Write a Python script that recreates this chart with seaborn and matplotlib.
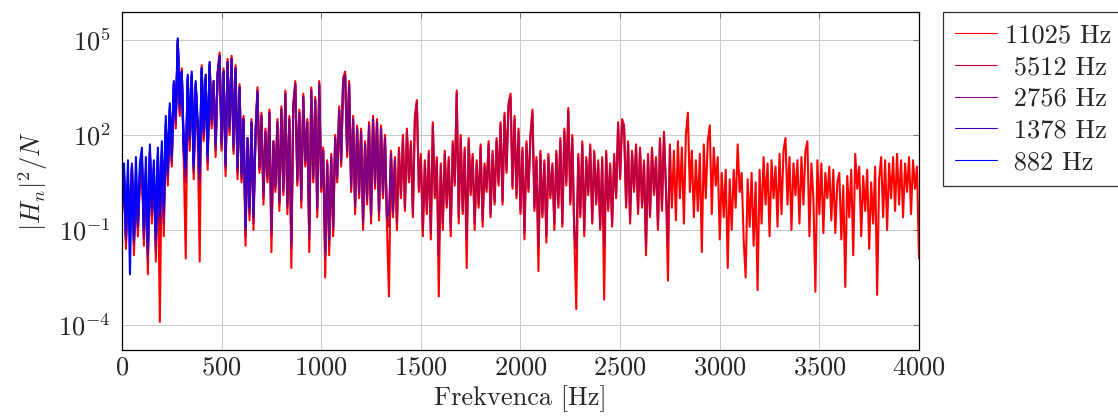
"""Power spectra of the same recording at several sampling rates, 0-4000 Hz, log y."""
import numpy as np
import pandas as pd

import matplotlib
matplotlib.use('Agg')
import matplotlib.pyplot as plt
from matplotlib.lines import Line2D
import seaborn as sns

STEP = 10  # Hz between read-off points

# log10(|H_n|^2 / N), every 10 Hz starting at 0 Hz
log_11025 = [
    -0.5, 0.8, -1.6, 0.3, -0.9, 1.0, -1.8, 0.5, -1.2, 0.7,
    1.2, -1.5, 0.6, -2.4, 1.5, -0.8, 0.9, -2.0, 1.3, -3.9,
    1.4, -1.2, 2.3, 0.4, 2.8, 1.0, 3.6, 2.2, 5.0, 2.6,
    4.1, 1.2, -1.9, 3.8, 1.5, 3.9, 0.6, 3.6, 2.0, -2.0,
    4.2, 1.8, 3.9, 0.9, 4.3, 2.2, 3.7, 1.3, 4.0, 4.6,
    1.5, 4.1, 0.7, 4.4, 2.0, 4.5, 1.4, 4.2, 0.6, 3.6,
    0.5, 2.6, -1.5, 1.9, -0.7, 2.5, -1.0, 2.0, 3.5, 0.8,
    2.7, -0.2, 2.2, 0.5, 2.8, -1.7, 1.8, 0.2, 2.5, -0.4,
    2.9, 0.1, 3.4, -0.5, 2.6, -2.2, 3.0, 3.7, 0.4, 2.8,
    -0.3, 3.3, 1.0, 2.5, -1.7, 3.5, 0.5, 3.2, -0.6, 3.7,
    0.2, 1.6, -2.5, 1.2, -1.8, 1.4, -1.2, 2.0, 0.5, 2.9,
    1.0, 3.8, 4.0, 1.3, 3.7, 0.2, 2.6, -0.5, 2.3, 0.0,
    2.2, -1.0, 1.8, -0.2, 2.4, -0.8, 2.6, 0.3, 2.5, -0.7,
    2.3, 0.0, 2.0, -0.9, -3.1, 1.5, -0.6, 1.3, -1.0, 1.6,
    0.0, 2.0, -0.4, 2.2, 0.5, 1.8, -0.6, 2.6, 3.1, 0.2,
    1.4, -1.2, 1.2, -0.5, 1.5, -1.3, 2.4, 0.0, 1.3, -3.1,
    1.1, -1.0, 1.5, -0.3, 1.3, -1.2, 1.8, 0.4, 3.4, -0.8,
    2.0, -0.5, 1.6, -2.2, 1.9, 0.1, 1.4, -1.0, 1.2, -0.3,
    1.7, -0.9, 1.1, 0.2, 1.8, -0.6, 1.5, -0.2, 1.9, 0.4,
    2.4, -0.2, 2.7, 0.8, 3.0, 3.3, 0.3, 2.6, 0.0, 2.2,
    -0.5, 1.6, -1.3, 1.8, 0.2, 2.0, 2.8, -0.4, 1.3, -2.3,
    1.5, -0.6, 1.2, -1.4, 1.4, 0.0, 1.1, -1.0, 1.5, -0.3,
    1.9, -0.9, 2.2, 0.4, 2.85, -0.2, 2.0, -1.2, -3.5, 1.4,
    -0.6, 1.8, -1.2, 1.3, 0.1, 1.7, -0.8, 1.5, -0.2, 1.2,
    -1.0, 1.3, -3.2, 1.5, -0.4, 1.1, -0.9, 1.4, 0.0, 2.4,
    0.6, 2.5, 2.3, -0.3, 1.8, -0.8, 1.5, 0.2, 1.7, -0.5,
    1.6, -0.3, 1.2, -1.8, 1.4, -0.6, 1.6, 0.1, 1.3, -1.0,
    1.9, -0.4, 2.1, 0.3, -2.6, 1.7, -0.3, 1.5, -0.7, 1.8,
    0.0, 1.6, -0.8, 2.0, 2.7, 0.2, 1.5, -0.6, 1.2, -0.4,
    1.4, -1.7, 1.7, 0.0, 1.8, 2.3, -0.5, 1.6, 0.4, 1.3,
    -1.3, 0.8, -0.6, 0.9, -2.2, 0.6, -1.0, 0.9, -0.3, 1.7,
    0.2, 0.8, -1.3, -2.5, 0.6, -0.9, 0.8, -1.5, 0.5, -2.9,
    0.9, -0.8, 1.3, -0.2, 1.1, -1.2, 1.2, 0.0, 1.0, -0.9,
    1.4, -0.5, 1.5, 1.9, -0.2, 1.3, -1.0, 1.1, 0.1, 1.2,
    -0.8, 1.3, -0.2, 1.5, 1.8, -1.2, 1.1, 0.0, -2.95, 1.2,
    -0.5, 1.1, -1.1, 0.8, 0.0, 1.0, -0.7, 0.9, -1.1, 0.5,
    0.8, -1.3, 0.4, -2.8, 0.7, -0.6, 0.9, -1.8, 1.4, 0.3,
    1.0, -1.2, 0.7, -0.4, 0.9, -1.6, 0.5, -0.8, 1.0, -3.05,
    0.6, 1.3, -0.6, 1.2, -1.0, 1.1, 0.0, 1.3, -0.4, 1.4,
    -0.2, 1.2, -0.6, 1.1, 0.2, 1.3, -0.5, 1.2, 0.3, 1.0,
    -1.9,
]
log_5512 = [
    -0.4, 0.7, -1.4, 0.4, -0.8, 0.9, -1.5, 0.4, -1.0, 0.6,
    1.1, -1.3, 0.7, -2.0, 1.4, -0.6, 0.8, -1.7, 1.2, -1.0,
    1.3, -0.8, 2.2, 0.6, 2.7, 1.1, 3.5, 2.3, 4.9, 2.7,
    4.0, 1.4, 0.5, 3.7, 1.7, 3.8, 0.8, 3.5, 2.1, 0.4,
    4.1, 1.9, 3.8, 1.1, 4.2, 2.3, 3.6, 1.5, 3.9, 4.5,
    1.6, 4.0, 0.9, 4.3, 2.1, 4.4, 1.5, 4.1, 0.8, 3.5,
    0.6, 2.5, -1.2, 1.8, -0.5, 2.4, -0.8, 1.9, 3.4, 0.9,
    2.6, 0.0, 2.1, 0.6, 2.7, -1.2, 1.7, 0.3, 2.4, -0.2,
    2.8, 0.2, 3.3, -0.3, 2.5, -1.6, 2.9, 3.6, 0.5, 2.7,
    -0.1, 3.2, 1.1, 2.4, -1.3, 3.4, 0.6, 3.1, -0.4, 3.6,
    0.3, 1.5, -1.9, 1.1, -1.5, 1.3, -1.0, 1.9, 0.6, 2.8,
    1.1, 3.7, 3.9, 1.4, 3.6, 0.3, 2.5, -0.3, 2.2, 0.1,
    2.1, -0.8, 1.7, -0.1, 2.3, -0.6, 2.5, 0.4, 2.4, -0.5,
    2.2, 0.1, 1.9, -0.7, -0.9, 1.4, -0.5, 1.2, -0.8, 1.5,
    0.1, 1.9, -0.3, 2.1, 0.6, 1.7, -0.5, 2.5, 3.0, 0.3,
    1.3, -1.0, 1.1, -0.4, 1.4, -1.1, 2.3, 0.1, 1.2, -1.8,
    1.0, -0.8, 1.4, -0.2, 1.2, -1.0, 1.7, 0.5, 3.3, -0.6,
    1.9, -0.4, 1.5, -1.3, 1.8, 0.2, 1.3, -0.8, 1.1, -0.2,
    1.6, -0.7, 1.0, 0.3, 1.7, -0.5, 1.4, -0.1, 1.8, 0.5,
    2.3, -0.1, 2.6, 0.9, 2.9, 3.2, 0.4, 2.5, 0.1, 2.1,
    -0.4, 1.5, -1.1, 1.7, 0.3, 1.9, 2.7, -0.3, 1.2, -1.5,
    1.4, -0.5, 1.1, -1.2, 1.3, 0.1, 1.0, -0.8, 1.4, -0.2,
    1.8, -0.8, 2.1, 0.5, 2.75, -0.1, 1.9, -1.0, -1.6, 1.3,
    -0.5, 1.7, -1.0, 1.2, 0.2, 1.6, -0.7, 1.4, -0.1, 1.1,
    -0.9, 1.2, -1.5, 1.4, -0.3, 1.0, -0.8, 1.3, 0.1, 2.3,
    0.7, 2.4, 2.2, -0.2, 1.7, -0.7, 1.4, 0.3, 1.6, -0.4,
    1.5, -0.2, 1.1, -1.5, 1.3, -0.5, 1.5, 0.2, 1.2, -0.9,
    1.8, -0.3, 2.0, 0.4, -1.4, 1.6,
]
log_2756 = [
    -0.3, 0.8, -1.3, 0.5, -0.7, 1.0, -1.4, 0.5, -0.9, 0.7,
    1.2, -1.2, 0.8, -1.8, 1.4, -0.5, 0.9, -1.5, 1.3, -0.8,
    1.4, -0.6, 2.3, 0.7, 2.8, 1.2, 3.5, 2.4, 4.9, 2.8,
    4.0, 1.5, 0.7, 3.7, 1.8, 3.8, 0.9, 3.6, 2.2, 0.6,
    4.1, 2.0, 3.8, 1.2, 4.2, 2.4, 3.7, 1.6, 3.9, 4.5,
    1.7, 4.0, 1.0, 4.3, 2.2, 4.4, 1.6, 4.1, 0.9, 3.5,
    0.7, 2.5, -1.0, 1.9, -0.4, 2.4, -0.6, 2.0, 3.4, 1.0,
    2.6, 0.1, 2.1, 0.7, 2.7, -1.0, 1.8, 0.4, 2.4, -0.1,
    2.8, 0.3, 3.3, -0.2, 2.5, -1.4, 2.9, 3.6, 0.6, 2.7,
    0.0, 3.2, 1.2, 2.4, -1.1, 3.4, 0.7, 3.1, -0.3, 3.6,
    0.4, 1.5, -1.7, 1.1, -1.3, 1.3, -0.9, 1.9, 0.7, 2.8,
    1.2, 3.7, 3.9, 1.5, 3.6, 0.4, 2.5, -0.2, 2.2, 0.2,
    2.1, -0.7, 1.7, 0.0, 2.3, -0.5, 2.5, 0.5, 2.4, -0.4,
    2.2, 0.2, 1.9, -0.6, -0.5, 1.4, -0.4, 1.2,
]
log_1378 = [
    -0.2, 0.9, -1.2, 0.6, -0.6, 1.1, -1.3, 0.6, -0.8, 0.8,
    1.3, -1.0, 0.9, -1.6, 1.5, -0.4, 1.0, -1.3, 1.4, -0.6,
    1.5, -0.4, 2.4, 0.8, 2.9, 1.3, 3.6, 2.5, 5.0, 2.9,
    4.0, 1.6, 0.9, 3.8, 1.9, 3.9, 1.0, 3.6, 2.3, 0.8,
    4.1, 2.1, 3.8, 1.3, 4.2, 2.5, 3.7, 1.7, 3.9, 4.5,
    1.8, 4.0, 1.1, 4.3, 2.3, 4.4, 1.7, 4.1, 1.0, 3.5,
    0.8, 2.5, -0.9, 1.9, -0.3, 2.4, -0.5, 2.0, 3.3,
]
log_882 = [
    -0.6, 1.1, -1.0, 1.2, -2.4, 1.0, -1.2, 1.3, -0.7, 1.1,
    1.6, -0.9, 1.3, -1.4, 1.7, -0.3, 1.2, -1.1, 1.6, -0.5,
    1.8, -0.2, 2.6, 0.9, 3.0, 1.4, 3.7, 2.6, 5.05, 3.0,
    4.0, 1.7, 1.0, 3.9, 2.0, 4.0, 1.1, 3.7, 2.4, 1.0,
    4.1, 2.2, 3.9, 1.4, 4.3,
]

labels = ['11025 Hz', '5512 Hz', '2756 Hz', '1378 Hz', '882 Hz']
series = [log_11025, log_5512, log_2756, log_1378, log_882]
colors = ['#ff0000', '#bf0040', '#800080', '#4000bf', '#0000ff']

frames = []
for lab, vals in zip(labels, series):
    frames.append(pd.DataFrame({'freq': np.arange(len(vals)) * STEP,
                                'power': 10.0 ** np.array(vals),
                                'rate': lab}))
df = pd.concat(frames, ignore_index=True)

sns.set_style('white')
plt.rcParams['font.family'] = 'serif'
plt.rcParams['font.serif'] = ['cmr10']
plt.rcParams['mathtext.fontset'] = 'cm'
plt.rcParams['axes.formatter.use_mathtext'] = True
plt.rcParams['axes.unicode_minus'] = False

FS = 19

fig = plt.figure(figsize=(11.18, 4.19), dpi=100)
ax = fig.add_axes([0.1091, 0.1647, 0.7129, 0.8067])

sns.lineplot(data=df, x='freq', y='power', hue='rate', hue_order=labels,
             palette=dict(zip(labels, colors)), estimator=None, sort=False,
             linewidth=1.5, legend=False, ax=ax)

ax.set_yscale('log')
ax.set_xlim(0, 4000)
ax.set_ylim(10 ** -4.79, 10 ** 5.88)
ax.set_xticks(range(0, 4001, 500))
ax.set_yticks([1e-4, 1e-1, 1e2, 1e5])
ax.yaxis.set_minor_locator(matplotlib.ticker.NullLocator())
ax.grid(True, color='#c8c8c8', linewidth=0.7)
ax.set_axisbelow(True)
ax.tick_params(direction='in', top=True, right=True, length=4,
               color='#777777', labelsize=FS)
ax.tick_params(axis='x', pad=4)
ax.tick_params(axis='y', pad=8)
for s in ax.spines.values():
    s.set_color('black')
    s.set_linewidth(0.9)

ax.set_xlabel('Frekvenca [Hz]', fontsize=FS, labelpad=4)
ax.set_ylabel(r'$|H_n|^2/N$', fontsize=FS, labelpad=6)

# legend texts are centred in the reference; pad the shorter ones
leg_labels = ['11025 Hz', ' 5512 Hz', ' 2756 Hz', ' 1378 Hz', ' 882 Hz']
handles = [Line2D([], [], color=c, linewidth=0.8) for c in colors]
leg = ax.legend(handles, leg_labels, loc='upper left', bbox_to_anchor=(1.03, 1.0),
                borderaxespad=0, fancybox=False, edgecolor='black', fontsize=FS,
                handlelength=1.6, handletextpad=0.3, labelspacing=0.3,
                borderpad=0.45)
leg.get_frame().set_linewidth(0.9)

plt.savefig('out.png', dpi=100)
plt.close(fig)
